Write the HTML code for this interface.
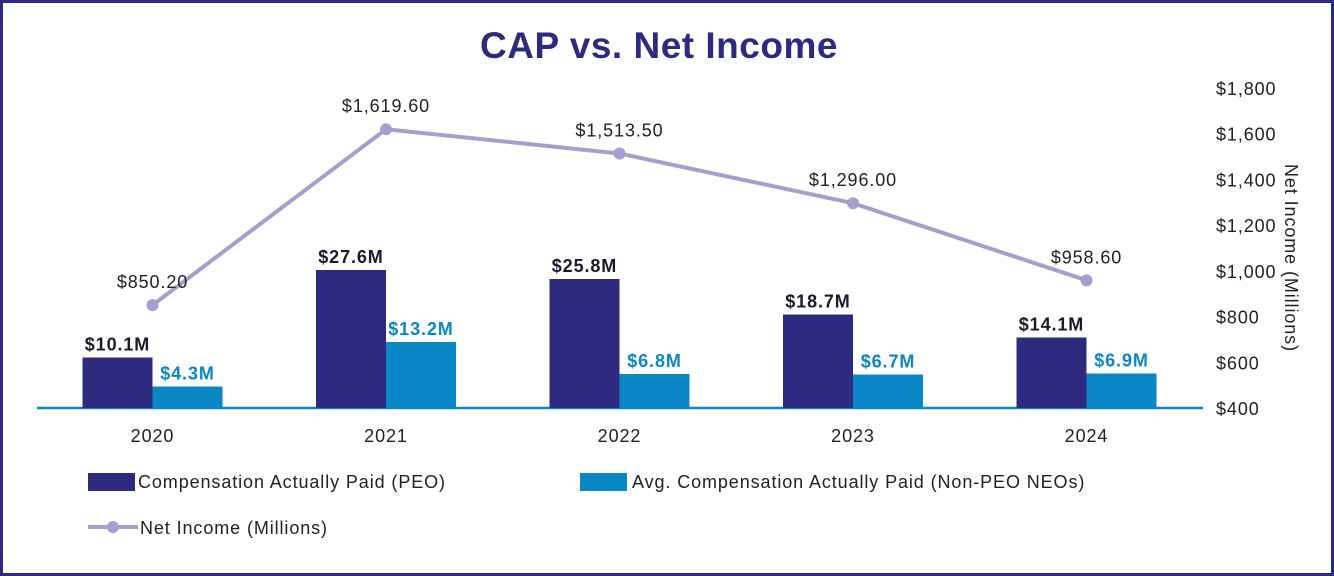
<!DOCTYPE html>
<html><head><meta charset="utf-8"><style>
html,body{margin:0;padding:0;background:#fff;}
body{width:1334px;height:576px;overflow:hidden;}
svg{display:block;font-family:"Liberation Sans",sans-serif;}
svg text{letter-spacing:0.9px;}
</style></head><body>
<svg id="chart" width="1334" height="576" viewBox="0 0 1334 576">
<rect x="1.5" y="1.5" width="1331" height="573" fill="#fff" stroke="#2e2a80" stroke-width="3"/>
<text x="659" y="58" text-anchor="middle" font-size="37" font-weight="bold" fill="#2e2a80" style="letter-spacing:0.5px">CAP vs. Net Income</text>
<g id="axis"></g><g id="bars"></g><g id="line"></g>
<text transform="translate(1285,258) rotate(90)" text-anchor="middle" font-size="18" fill="#222">Net Income (Millions)</text>
<g>
<rect x="88" y="473" width="47" height="18" fill="#2e2a80"/>
<text x="138" y="488" font-size="18" fill="#222">Compensation Actually Paid (PEO)</text>
<rect x="580" y="473" width="47" height="18" fill="#0a87c7"/>
<text x="632" y="488" font-size="18" fill="#222">Avg. Compensation Actually Paid (Non-PEO NEOs)</text>
<line x1="88" y1="527" x2="138" y2="527" stroke="#a59fcf" stroke-width="4"/>
<circle cx="113" cy="527" r="6" fill="#a59fcf"/>
<text x="140" y="534" font-size="18" fill="#222">Net Income (Millions)</text>
</g>
</svg>
<script>
const years = ["2020","2021","2022","2023","2024"];
const peo = [10.1, 27.6, 25.8, 18.7, 14.1];
const nonPeo = [4.3, 13.2, 6.8, 6.7, 6.9];
const netIncome = [850.2, 1619.6, 1513.5, 1296.0, 958.6];
const netLabels = ["$850.20","$1,619.60","$1,513.50","$1,296.00","$958.60"];
const rightTicks = [400, 600, 800, 1000, 1200, 1400, 1600, 1800];

const NS = "http://www.w3.org/2000/svg";
const base = 408;
const xC = i => 152.5 + i * 233.5;
const yBar = v => base - v * 5;
const yLine = v => base - (v - 400) * (320 / 1400);
function mk(tag, attrs, parent, txt) {
  const e = document.createElementNS(NS, tag);
  for (const k in attrs) e.setAttribute(k, attrs[k]);
  if (txt !== undefined) e.textContent = txt;
  parent.appendChild(e);
  return e;
}
const gA = document.getElementById("axis"), gB = document.getElementById("bars"), gL = document.getElementById("line");
rightTicks.forEach(t => {
  const e = mk("text", {x: 1216, y: yLine(t) + 7, "font-size": 18, fill: "#222"}, gA, "$" + t.toLocaleString("en-US"));
  
  
});
years.forEach((y, i) => {
  const e = mk("text", {x: xC(i), y: 442, "text-anchor": "middle", "font-size": 18, fill: "#222"}, gA, y);
  
  
  const b1 = mk("rect", {x: xC(i) - 70, y: yBar(peo[i]), width: 70, height: peo[i] * 5, fill: "#2e2a80"}, gB);
  
  
  const t1 = mk("text", {x: xC(i) - 35, y: yBar(peo[i]) - 7, "text-anchor": "middle", "font-size": 18, "font-weight": "bold", fill: "#1a1a2a"}, gB, "$" + peo[i].toFixed(1) + "M");
  
  
  const b2 = mk("rect", {x: xC(i), y: yBar(nonPeo[i]), width: 70, height: nonPeo[i] * 5, fill: "#0a87c7"}, gB);
  
  
  const t2 = mk("text", {x: xC(i) + 35, y: yBar(nonPeo[i]) - 7, "text-anchor": "middle", "font-size": 18, "font-weight": "bold", fill: "#0a87c7"}, gB, "$" + nonPeo[i].toFixed(1) + "M");
  
  
});
const bl = mk("line", {x1: 37, y1: base, x2: 1203, y2: base, stroke: "#0a87c7", "stroke-width": 2.5}, gA);


const pts = netIncome.map((v, i) => xC(i) + "," + yLine(v)).join(" ");
const pl = mk("polyline", {points: pts, fill: "none", stroke: "#a59fcf", "stroke-width": 4, "stroke-linejoin": "round"}, gL);


netIncome.forEach((v, i) => {
  const c = mk("circle", {cx: xC(i), cy: yLine(v), r: 6, fill: "#a59fcf"}, gL);
  
  
  const t = mk("text", {x: xC(i), y: yLine(v) - 17, "text-anchor": "middle", "font-size": 18, fill: "#222"}, gL, netLabels[i]);
  
  
});
</script>
</body></html>
